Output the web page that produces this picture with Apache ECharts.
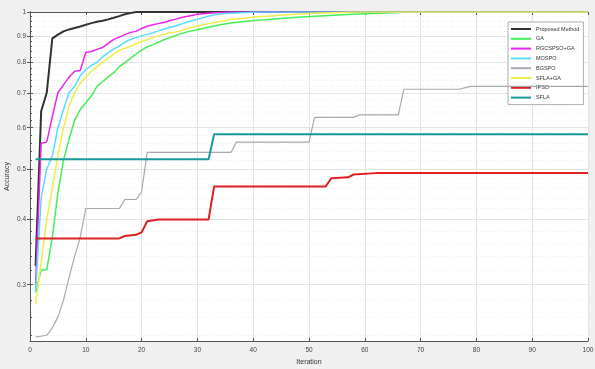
<!DOCTYPE html>
<html>
<head>
<meta charset="utf-8">
<script src="https://cdn.jsdelivr.net/npm/echarts@6/dist/echarts.min.js"></script>
<style>
  html, body { margin: 0; padding: 0; background: #f0f0f0; }
  #chart { width: 595px; height: 369px; }
</style>
</head>
<body>
<div id="chart"></div>
<script>
// Convergence of accuracy over iterations for each method ([iteration, accuracy])
const seriesNames = ['Proposed Method', 'GA', 'RGCSPSO+GA', 'MOSPO', 'BGSPO', 'SFLA+GA', 'IPSO', 'SFLA'];

const proposed = [[1,0.326],[2,0.645],[3,0.70],[4,0.89],[5,0.905],[6,0.918],[7,0.926],[8,0.932],[9,0.938],[10,0.945],
  [11,0.952],[12,0.958],[13,0.962],[14,0.968],[15,0.975],[16,0.982],[17,0.99],[18,0.995],[19,1],[100,1]];

const ga = [[1,0.29],[2,0.32],[3,0.32],[4,0.37],[5,0.45],[6,0.52],[7,0.57],[8,0.62],[9,0.65],[10,0.67],
  [11,0.69],[12,0.72],[13,0.735],[14,0.75],[15,0.765],[16,0.785],[17,0.80],[18,0.815],[19,0.83],[20,0.845],
  [21,0.857],[22,0.865],[23,0.875],[24,0.885],[25,0.893],[26,0.90],[27,0.908],[28,0.915],[29,0.92],[30,0.925],
  [32,0.935],[34,0.945],[36,0.953],[38,0.958],[40,0.963],[44,0.97],[48,0.977],[52,0.983],[56,0.988],[60,0.992],
  [64,0.996],[68,1],[100,1]];

const rgcspsoGa = [[1,0.30],[2,0.56],[3,0.563],[4,0.63],[5,0.70],[6,0.725],[7,0.75],[8,0.77],[9,0.772],[10,0.836],
  [11,0.84],[12,0.848],[13,0.855],[14,0.87],[15,0.886],[16,0.895],[17,0.905],[18,0.914],[19,0.918],[20,0.93],
  [21,0.939],[22,0.945],[23,0.95],[24,0.955],[25,0.962],[26,0.968],[27,0.975],[28,0.98],[29,0.985],[30,0.99],
  [32,0.995],[34,0.998],[36,1],[100,1]];

const mospo = [[1,0.29],[2,0.44],[3,0.50],[4,0.53],[5,0.60],[6,0.65],[7,0.70],[8,0.72],[9,0.755],[10,0.775],
  [11,0.79],[12,0.80],[13,0.82],[14,0.835],[15,0.85],[16,0.86],[17,0.875],[18,0.886],[19,0.893],[20,0.90],
  [21,0.906],[22,0.912],[23,0.92],[24,0.927],[25,0.934],[26,0.94],[27,0.947],[28,0.955],[29,0.962],[30,0.968],
  [31,0.975],[32,0.982],[33,0.988],[35,0.993],[38,0.997],[41,1],[100,1]];

const bgspo = [[1,0.238],[3,0.24],[4,0.248],[5,0.26],[6,0.28],[7,0.31],[8,0.34],[9,0.37],[10,0.42],[16,0.42],
  [17,0.437],[19,0.437],[20,0.452],[21,0.538],[36,0.538],[37,0.563],[50,0.563],[51,0.628],[58,0.628],[59,0.635],
  [66,0.635],[67,0.711],[77,0.711],[78,0.716],[79,0.72],[100,0.72]];

const sflaGa = [[1,0.275],[2,0.33],[3,0.40],[4,0.46],[5,0.53],[6,0.60],[7,0.66],[8,0.70],[9,0.73],[10,0.75],
  [11,0.77],[12,0.785],[13,0.80],[14,0.815],[15,0.83],[16,0.845],[17,0.852],[18,0.86],[19,0.87],[20,0.878],
  [21,0.885],[22,0.893],[23,0.90],[24,0.906],[25,0.912],[26,0.915],[27,0.92],[28,0.928],[29,0.935],[30,0.94],
  [32,0.95],[34,0.958],[36,0.968],[38,0.972],[40,0.978],[43,0.983],[46,0.988],[50,0.993],[54,0.997],[58,1],[100,1]];

const ipso = [[1,0.368],[16,0.368],[17,0.372],[19,0.374],[20,0.378],[21,0.397],[23,0.40],[32,0.40],[33,0.463],[53,0.463],
  [54,0.48],[57,0.482],[58,0.488],[62,0.491],[100,0.491]];

const sfla = [[1,0.522],[32,0.522],[33,0.583],[100,0.583]];

// Axis ticks
const yTicks = [0.3, 0.4, 0.5, 0.6, 0.7, 0.8, 0.9, 1];
const yMinorTicks = [0.24, 0.26, 0.28, 0.32, 0.34, 0.36, 0.38, 0.42, 0.44, 0.46, 0.48, 0.52, 0.54, 0.56, 0.58,
  0.62, 0.64, 0.66, 0.68, 0.72, 0.74, 0.76, 0.78, 0.82, 0.84, 0.86, 0.88, 0.92, 0.94, 0.96, 0.98];

const allData = [proposed, ga, rgcspsoGa, mospo, bgspo, sflaGa, ipso, sfla];
const colors = ['#333333', '#44ee55', '#ee22ee', '#55ddff', '#a8a8b0', '#eeee44', '#dd2020', '#16999a'];
const widths = [2, 1.5, 1.5, 1.5, 1.2, 1.5, 2, 2];

const font = 'Liberation Sans, Arial, sans-serif';
const axisColor = '#555555';

const chart = echarts.init(document.getElementById('chart'), null, { renderer: 'canvas' });

const yMin = 0.234, yMax = 1;

chart.setOption({
  backgroundColor: '#f0f0f0',
  animation: false,
  textStyle: { fontFamily: font },
  grid: {
    left: 30, right: 7, top: 12, bottom: 28,
    outerBoundsMode: 'none', containLabel: false,
    show: true, backgroundColor: '#ffffff', borderWidth: 0
  },
  legend: {
    data: seriesNames.map((n, i) => ({ name: n, icon: 'rect', itemStyle: { color: colors[i] } })),
    orient: 'vertical',
    left: 508, top: 22,
    itemWidth: 20, itemHeight: 2,
    itemGap: 1.8,
    padding: [3, 4, 3, 3],
    backgroundColor: '#ffffff',
    borderColor: '#999999', borderWidth: 0.8, borderRadius: 0,
    textStyle: { fontSize: 5.5, color: '#333', fontFamily: font, height: 8, lineHeight: 8 }
  },
  xAxis: [
    {
      type: 'value', min: 0, max: 100, interval: 10, position: 'bottom',
      name: 'Iteration', nameLocation: 'middle', nameGap: 18,
      nameTextStyle: { fontSize: 7, color: '#333' },
      axisLine: { show: true, lineStyle: { color: axisColor, width: 1 } },
      axisTick: { show: true, inside: true, length: 3, lineStyle: { color: axisColor } },
      axisLabel: { fontSize: 6.5, color: '#444', margin: 6 },
      splitLine: { show: true, lineStyle: { color: '#e4e4e4', width: 1 } }
    },
    {
      type: 'value', min: 0, max: 100, interval: 10, position: 'top',
      axisLine: { show: true, lineStyle: { color: axisColor, width: 1 } },
      axisTick: { show: true, inside: true, length: 3, lineStyle: { color: axisColor } },
      axisLabel: { show: false },
      splitLine: { show: false }
    }
  ],
  yAxis: [
    {
      type: 'log', logBase: 10, min: yMin, max: yMax, position: 'left',
      name: 'Accuracy', nameLocation: 'middle', nameGap: 19, nameMoveOverlap: false,
      nameTextStyle: { fontSize: 7, color: '#333' },
      axisLine: { show: true, lineStyle: { color: axisColor, width: 1 } },
      axisTick: { show: true, inside: true, length: 3, customValues: yTicks, lineStyle: { color: axisColor } },
      axisLabel: { fontSize: 6.5, color: '#444', margin: 4, customValues: yTicks,
        formatter: v => String(Math.round(v * 10) / 10) },
      splitLine: { show: true, lineStyle: { color: '#e4e4e4', width: 1 } }
    },
    {
      type: 'log', logBase: 10, min: yMin, max: yMax, position: 'right',
      axisLine: { show: true, lineStyle: { color: axisColor, width: 1 } },
      axisTick: { show: true, inside: true, length: 3, customValues: yTicks, lineStyle: { color: axisColor } },
      axisLabel: { show: false },
      splitLine: { show: false }
    },
    {
      type: 'log', logBase: 10, min: yMin, max: yMax, position: 'left',
      axisLine: { show: false },
      axisTick: { show: true, inside: true, length: 2, customValues: yMinorTicks, lineStyle: { color: axisColor } },
      axisLabel: { show: false },
      splitLine: { show: true, lineStyle: { color: '#ededed', width: 1, type: [1, 2] } }
    }
  ],
  series: seriesNames.map((name, i) => ({
    name: name,
    type: 'line',
    data: allData[i],
    symbol: 'none',
    xAxisIndex: 0,
    yAxisIndex: 0,
    color: colors[i],
    lineStyle: { color: colors[i], width: widths[i] },
    z: 2 + i
  }))
});
</script>
</body>
</html>
